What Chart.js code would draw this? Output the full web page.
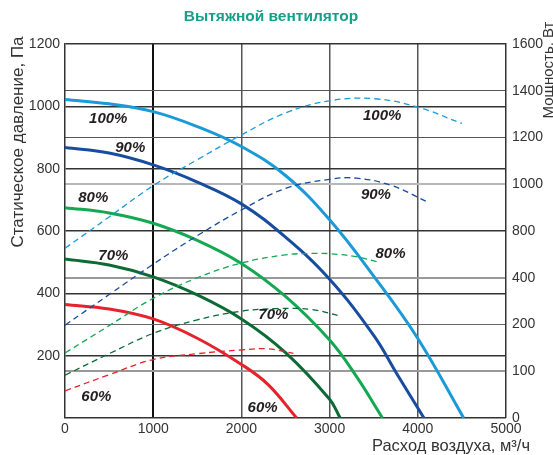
<!DOCTYPE html>
<html><head><meta charset="utf-8">
<script src="https://cdn.jsdelivr.net/npm/chart.js@4"></script>
<style>html,body{margin:0;padding:0;background:#fff}#wrap{width:553px;height:455px}</style>
</head><body><div id="wrap"><canvas id="c" width="553" height="455"></canvas></div>
<script>
// ---- Data ----
const speeds = ['100%', '90%', '80%', '70%', '60%'];
const colors = ['#1a9ad8', '#174c9e', '#15a853', '#0c6a35', '#e8222b'];

// Static pressure, Pa (left axis)
const flowP100 = [0, 500, 1000, 1500, 2000, 2500, 3000, 3500, 4000, 4520];
const pres100  = [1022, 1008, 983, 935, 871, 778, 636, 455, 255, 0];
const flowP90  = [0, 500, 1000, 1500, 2000, 2500, 3000, 3500, 3760, 4070];
const pres90   = [868, 850, 812, 757, 687, 580, 445, 265, 143, 0];
const flowP80  = [0, 500, 1000, 1500, 2000, 2500, 3000, 3300, 3600];
const pres80   = [675, 658, 625, 570, 496, 390, 250, 135, 0];
const flowP70  = [0, 500, 1000, 1500, 2000, 2500, 3000, 3120];
const pres70   = [510, 491, 453, 395, 318, 210, 60, 0];
const flowP60  = [0, 500, 1000, 1500, 2000, 2300, 2627];
const pres60   = [364, 350, 318, 256, 172, 108, 0];

// Power, W (right axis)
const flowW100 = [0, 500, 1000, 1500, 2000, 2500, 3000, 3500, 4000, 4500];
const pow100   = [726, 860, 994, 1105, 1211, 1305, 1357, 1366, 1330, 1260];
const flowW90  = [0, 500, 1000, 1500, 2000, 2500, 3000, 3300, 3700, 4090];
const pow90    = [397, 528, 658, 780, 890, 982, 1021, 1026, 995, 928];
const flowW80  = [0, 500, 1000, 1500, 2000, 2500, 2800, 3000, 3300, 3550];
const pow80    = [278, 395, 512, 600, 663, 698, 704, 703, 690, 667];
const flowW70  = [0, 500, 1000, 1500, 2000, 2400, 2800, 3110];
const pow70    = [183, 275, 362, 420, 457, 468, 464, 437];
const flowW60  = [0, 500, 1000, 1500, 2000, 2300, 2590];
const pow60    = [116, 185, 250, 275, 291, 296, 276];

// Tick labels
const xTicks = [0, 1000, 2000, 3000, 4000, 5000];
const leftTicks = ['', '200', '400', '600', '800', '1000', '1200'];
const rightTickLabels = ['0', '100', '200', '400', '800', '1000', '1200', '1400', '1600'];

// Label anchor positions (flow, Pa on left axis)
const pLabelX = [490, 740, 320, 548, 355];
const pLabelY = [960, 867, 706, 520, 67];
const wLabelX = [3596, 3525, 3690, 2362, 2240];
const wLabelY = [970, 716, 528, 330, 33];

const titleText = 'Вытяжной вентилятор';
const yTitle = 'Статическое давление, Па';
const y2Title = 'Мощность, Вт';
const xTitle = 'Расход воздуха, м³/ч';

// ---- Build ----
function pts(xs, ys) { return xs.map((x, i) => ({x: x, y: ys[i]})); }
const pSets = [[flowP100, pres100], [flowP90, pres90], [flowP80, pres80], [flowP70, pres70], [flowP60, pres60]];
const wSets = [[flowW100, pow100], [flowW90, pow90], [flowW80, pow80], [flowW70, pow70], [flowW60, pow60]];
const datasets = [];
wSets.forEach((s, i) => datasets.push({
  data: pts(s[0], s[1]), yAxisID: 'y2', borderColor: colors[i], borderWidth: 1.3,
  borderDash: [6, 4], pointRadius: 0, tension: 0.4, fill: false
}));
pSets.forEach((s, i) => datasets.push({
  data: pts(s[0], s[1]), yAxisID: 'y', borderColor: colors[i], borderWidth: 3,
  pointRadius: 0, tension: 0.4, fill: false
}));

const FONT = "'Liberation Sans', Arial, sans-serif";

const textPlugin = {
  id: 'texts',
  afterDraw(chart) {
    const ctx = chart.ctx, xs = chart.scales.x, ys = chart.scales.y;
    ctx.save();
    // title
    ctx.fillStyle = '#14a08a';
    ctx.font = 'bold 15.5px ' + FONT;
    ctx.textAlign = 'center'; ctx.textBaseline = 'middle';
    ctx.fillText(titleText, 271, 17);
    // axis titles
    ctx.fillStyle = '#333';
    ctx.font = '17px ' + FONT;
    ctx.save(); ctx.translate(18, 142); ctx.rotate(-Math.PI / 2);
    ctx.fillText(yTitle, 0, 0); ctx.restore();
    ctx.font = '15px ' + FONT;
    ctx.save(); ctx.translate(549, 70); ctx.rotate(-Math.PI / 2);
    ctx.fillText(y2Title, 0, 0); ctx.restore();
    ctx.font = '16.5px ' + FONT;
    ctx.textAlign = 'right';
    ctx.fillText(xTitle, 530, 446);
    // percent labels
    ctx.fillStyle = '#231f20';
    ctx.font = 'italic bold 15px ' + FONT;
    ctx.textAlign = 'center';
    speeds.forEach((s, i) => {
      ctx.fillText(s, xs.getPixelForValue(pLabelX[i]), ys.getPixelForValue(pLabelY[i]));
      ctx.fillText(s, xs.getPixelForValue(wLabelX[i]), ys.getPixelForValue(wLabelY[i]));
    });
    ctx.restore();
  }
};

const rightGrid = {200: ['#999', 2], 400: ['#666', 1], 600: ['#999', 2], 1000: ['#b8b8b8', 2], 1200: ['#555', 1], 1400: ['#555', 1]};

new Chart(document.getElementById('c'), {
  type: 'line',
  data: {datasets: datasets},
  options: {
    responsive: false, animation: false,
    layout: {padding: {top: 44, left: 0, right: 0, bottom: 0}},
    plugins: {legend: {display: false}, tooltip: {enabled: false}},
    scales: {
      x: {
        type: 'linear', min: 0, max: 5000,
        afterBuildTicks: s => { s.ticks = xTicks.map(v => ({value: v})); },
        afterFit: s => { s.height = 37; },
        ticks: {color: '#333', font: {size: 14, family: FONT}, padding: 3, maxRotation: 0,
          callback: v => String(v)},
        grid: {drawTicks: false,
          color: c => c.tick.value === 1000 ? '#111' : '#555',
          lineWidth: c => (c.tick.value === 0 || c.tick.value === 5000) ? 0 : (c.tick.value === 1000 ? 2 : 1.5)},
        border: {color: '#333', width: 1.5}
      },
      y: {
        type: 'linear', position: 'left', min: 0, max: 1200,
        ticks: {stepSize: 200, color: '#333', font: {size: 14, family: FONT}, padding: 5,
          callback: v => leftTicks[Math.round(v / 200)]},
        afterFit: s => { s.width = 65; },
        grid: {drawTicks: false, color: '#333', lineWidth: c => c.tick.value === 0 ? 0 : 1.5},
        border: {color: '#333', width: 1.5}
      },
      y2: {
        type: 'linear', position: 'right', min: 0, max: 1600,
        ticks: {stepSize: 200, color: '#333', font: {size: 14, family: FONT}, padding: 6,
          callback: v => rightTickLabels[Math.round(v / 200)]},
        afterFit: s => { s.width = 47; },
        grid: {drawTicks: false,
          color: c => rightGrid[c.tick.value] ? rightGrid[c.tick.value][0] : 'rgba(0,0,0,0)',
          lineWidth: c => rightGrid[c.tick.value] ? rightGrid[c.tick.value][1] : 0},
        border: {color: '#333', width: 1.5}
      }
    }
  },
  plugins: [textPlugin]
});
</script>
</body></html>
